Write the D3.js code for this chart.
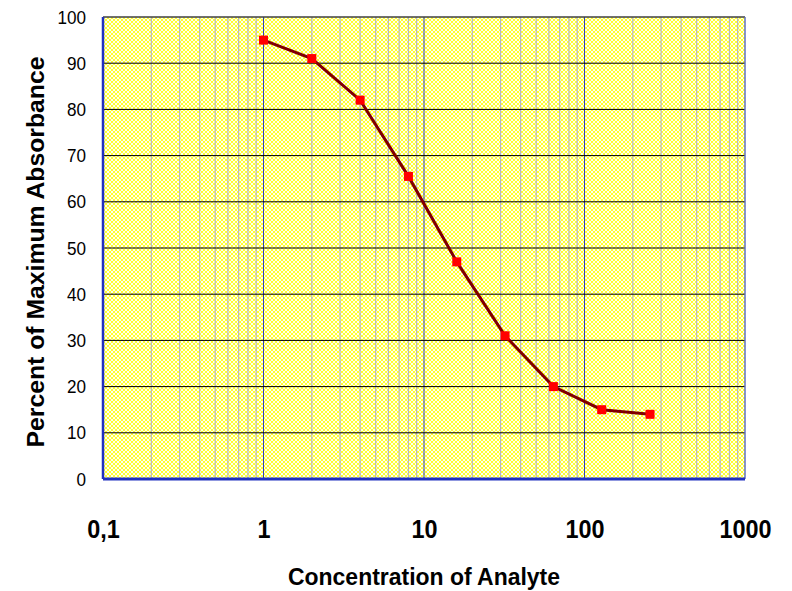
<!DOCTYPE html>
<html>
<head>
<meta charset="utf-8">
<script src="https://cdn.jsdelivr.net/npm/d3@7"></script>
<style>
body { margin: 0; background: #fff; }
text { font-family: "Liberation Sans", Arial, sans-serif; }
</style>
</head>
<body>
<div id="chart"></div>
<script>
// data
var concentration = [1, 2, 4, 8, 16, 32, 64, 128, 256];
var absorbance = [95, 91, 82, 65.5, 47, 31, 20, 15, 14];
var yTicks = [0, 10, 20, 30, 40, 50, 60, 70, 80, 90, 100];
var xTicks = [0.1, 1, 10, 100, 1000];
var xTickLabels = ["0,1", "1", "10", "100", "1000"];

var svgWidth = 792;
var svgHeight = 591;
var margin = { top: 17, right: 47, bottom: 112, left: 103 };
var width = svgWidth - margin.left - margin.right;
var height = svgHeight - margin.top - margin.bottom;

var svg = d3.select("#chart").append("svg")
    .attr("width", svgWidth)
    .attr("height", svgHeight);

// text in the picture is a bit narrower than the font
function squeeze(sel, k) {
    sel.each(function () {
        var w = this.getComputedTextLength();
        d3.select(this).attr("textLength", w * k).attr("lengthAdjust", "spacingAndGlyphs");
    });
}

var defs = svg.append("defs");
var pat = defs.append("pattern")
    .attr("id", "dots")
    .attr("patternUnits", "userSpaceOnUse")
    .attr("width", 4)
    .attr("height", 4);
pat.append("rect").attr("width", 4).attr("height", 4).attr("fill", "#ffffec");
pat.append("rect").attr("x", 0).attr("y", 0).attr("width", 2).attr("height", 2).attr("fill", "#ffff30");
pat.append("rect").attr("x", 2).attr("y", 2).attr("width", 2).attr("height", 2).attr("fill", "#ffff30");

var g = svg.append("g")
    .attr("transform", `translate(${margin.left}, ${margin.top})`);

var x = d3.scaleLog().domain([0.1, 1000]).range([0, width]);
var y = d3.scaleLinear().domain([0, 100]).range([height, 0]);

g.append("rect")
    .attr("width", width)
    .attr("height", height)
    .attr("fill", "url(#dots)");

// minor vertical grid
var minor = [];
[0.1, 1, 10, 100].forEach(function (d) {
    for (var k = 2; k <= 9; k++) minor.push(d * k);
});
g.selectAll(".minor").data(minor).enter().append("line")
    .attr("x1", d => x(d)).attr("x2", d => x(d))
    .attr("y1", 0).attr("y2", height)
    .attr("stroke", "#b8b8b8")
    .attr("stroke-width", 1.2);

// decade lines
g.selectAll(".major").data([1, 10, 100]).enter().append("line")
    .attr("x1", d => x(d)).attr("x2", d => x(d))
    .attr("y1", 0).attr("y2", height)
    .attr("stroke", "#3040b0")
    .attr("stroke-width", 1);

// horizontal grid
g.selectAll(".hgrid").data(yTicks.slice(1)).enter().append("line")
    .attr("x1", 0).attr("x2", width)
    .attr("y1", d => y(d)).attr("y2", d => y(d))
    .attr("stroke", d => d === 100 ? "#404040" : "#000")
    .attr("stroke-width", d => d === 100 ? 1.5 : 1);

// borders
g.append("line").attr("x1", width).attr("x2", width).attr("y1", 0).attr("y2", height)
    .attr("stroke", "#6070c0").attr("stroke-width", 1.5);
g.append("line").attr("x1", 0).attr("x2", 0).attr("y1", 0).attr("y2", height)
    .attr("stroke", "#2030c0").attr("stroke-width", 2.5);
g.append("line").attr("x1", 0).attr("x2", width).attr("y1", height).attr("y2", height)
    .attr("stroke", "#2030c0").attr("stroke-width", 3);

// y axis labels
var leftAxis = d3.axisLeft(y).tickValues(yTicks).tickSize(0).tickPadding(17);
var ya = g.append("g").call(leftAxis);
ya.select(".domain").remove();
ya.selectAll("text")
    .attr("font-size", 19)
    .attr("font-family", "Liberation Sans, Arial, sans-serif")
    .attr("fill", "#000")
    .call(squeeze, 0.9);

// x axis labels
var bottomAxis = d3.axisBottom(x).tickValues(xTicks).tickSize(0).tickPadding(0)
    .tickFormat((d, i) => xTickLabels[i]);
var xa = g.append("g").attr("transform", `translate(0, ${height})`).call(bottomAxis);
xa.select(".domain").remove();
xa.selectAll("text")
    .attr("dy", null)
    .attr("y", 538 - margin.top - height)
    .attr("font-size", 26)
    .attr("font-weight", "bold")
    .attr("font-family", "Liberation Sans, Arial, sans-serif")
    .attr("fill", "#000")
    .call(squeeze, 0.9);

// line + markers
var line = d3.line()
    .x((d, i) => x(concentration[i]))
    .y(d => y(d));
g.append("path")
    .datum(absorbance)
    .attr("d", line)
    .attr("fill", "none")
    .attr("stroke", "#800000")
    .attr("stroke-width", 3);

g.selectAll(".pt").data(absorbance).enter().append("rect")
    .attr("x", (d, i) => x(concentration[i]) - 4.5)
    .attr("y", d => y(d) - 4.5)
    .attr("width", 9)
    .attr("height", 9)
    .attr("fill", "#ff0000");

// titles
svg.append("text")
    .attr("x", 424)
    .attr("y", 585)
    .attr("text-anchor", "middle")
    .attr("font-size", 23)
    .attr("font-weight", "bold")
    .attr("textLength", 272)
    .attr("lengthAdjust", "spacingAndGlyphs")
    .text("Concentration of Analyte");

svg.append("text")
    .attr("transform", "translate(44, 252) rotate(-90)")
    .attr("text-anchor", "middle")
    .attr("font-size", 23)
    .attr("font-weight", "bold")
    .attr("textLength", 391)
    .attr("lengthAdjust", "spacingAndGlyphs")
    .text("Percent of Maximum Absorbance");
</script>
</body>
</html>
